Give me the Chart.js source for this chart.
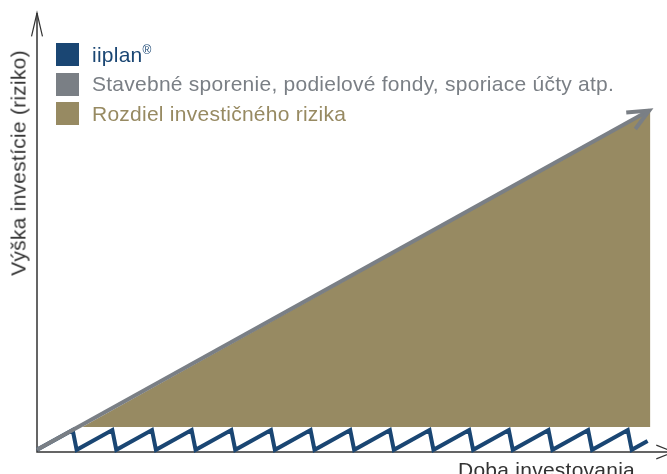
<!DOCTYPE html>
<html lang="sk">
<head>
  <meta charset="UTF-8">
  <title>Výška investície (riziko)</title>
  <script src="https://cdn.jsdelivr.net/npm/chart.js"></script>
  <style>
    body { margin: 0; background: #fff; font-family: "Liberation Sans", Arial, sans-serif; }
    .wrap { position: relative; width: 667px; height: 474px; overflow: hidden; }
    canvas { position: absolute; left: 0; top: 0; }
    .legenda { position: absolute; left: 56px; top: 40px; font-size: 21px; letter-spacing: 0.25px; }
    .legenda div { height: 29.5px; display: flex; align-items: center; white-space: nowrap; }
    .legenda span.box { width: 23px; height: 23px; margin-right: 13px; flex: none; }
    .ytitul { position: absolute; left: 18px; top: 163px; transform: translate(-50%, -50%) rotate(-90deg);
              font-size: 21px; line-height: 1; letter-spacing: 0.25px; color: #333; white-space: nowrap; }
    .xtitul { position: absolute; left: 458px; top: 459px; font-size: 21px; line-height: 1;
              letter-spacing: 0.25px; color: #333; white-space: nowrap; }
  </style>
</head>
<body>
  <div class="wrap">
    <canvas id="graf" width="667" height="474"></canvas>
    <div class="legenda" id="legenda"></div>
    <div class="ytitul">Výška investície (riziko)</div>
    <div class="xtitul">Doba investovania</div>
  </div>

  <script>
    // x = doba (periody), y = riziko (0..100)
    const nazvy = ['iiplan®', 'Stavebné sporenie, podielové fondy, sporiace účty atp.', 'Rozdiel investičného rizika'];
    const farby = ['#1a4673', '#7a7f85', '#978a62'];

    // iiplan - pilovity priebeh
    const iiplanX = [0, 0.9, 1, 1.9, 2, 2.9, 3, 3.9, 4, 4.9, 5, 5.9, 6, 6.9, 7, 7.9, 8,
                     8.9, 9, 9.9, 10, 10.9, 11, 11.9, 12, 12.9, 13, 13.9, 14, 14.9, 15, 15.4];
    const iiplanY = [0.5, 5, 0.5, 5, 0.5, 5, 0.5, 5, 0.5, 5, 0.5, 5, 0.5, 5, 0.5, 5, 0.5,
                     5, 0.5, 5, 0.5, 5, 0.5, 5, 0.5, 5, 0.5, 5, 0.5, 5, 0.5, 2.5];

    // klasicke produkty - priamka
    const klasikaX = [0, 15.44];
    const klasikaY = [0.5, 77.6];

    // rozdiel rizika - trojuholnik nad iiplanom
    const rozdielX = [1.14, 15.47];
    const rozdielY = [5.7, 77.6];
    const rozdielZaklad = 5.7;

    const body = (xs, ys) => xs.map((x, i) => ({ x: x, y: ys[i] }));

    // legenda
    const leg = document.getElementById('legenda');
    nazvy.forEach((n, i) => {
      const r = document.createElement('div');
      r.innerHTML = '<span class="box" style="background:' + farby[i] + '"></span>' +
                    '<span style="color:' + farby[i] + '">' + n.replace('®', '<sup style="font-size:12px">®</sup>') + '</span>';
      leg.appendChild(r);
    });

    function sipka(ctx, x, y, uhol, dlzka, roztvor) {
      ctx.beginPath();
      ctx.moveTo(x + dlzka * Math.cos(uhol + roztvor), y + dlzka * Math.sin(uhol + roztvor));
      ctx.lineTo(x, y);
      ctx.lineTo(x + dlzka * Math.cos(uhol - roztvor), y + dlzka * Math.sin(uhol - roztvor));
      ctx.stroke();
    }

    const osi = {
      id: 'osi',
      beforeDatasetsDraw(chart) {
        const { ctx, chartArea: a } = chart;
        ctx.save();
        ctx.strokeStyle = '#333';
        ctx.lineWidth = 1.5;
        ctx.beginPath();
        ctx.moveTo(a.left, a.top + 1);
        ctx.lineTo(a.left, a.bottom);
        ctx.lineTo(a.right, a.bottom);
        ctx.stroke();
        ctx.lineWidth = 1.2;
        sipka(ctx, a.left, a.top + 1, Math.PI / 2, 24, 0.23);
        sipka(ctx, a.right + 7, a.bottom, Math.PI, 19, 0.37);
        ctx.restore();
      },
      afterDatasetsDraw(chart) {
        const meta = chart.getDatasetMeta(1);
        const p = meta.data;
        const a = p[p.length - 2], b = p[p.length - 1];
        const uhol = Math.atan2(a.y - b.y, a.x - b.x);
        const ctx = chart.ctx;
        ctx.save();
        ctx.strokeStyle = farby[1];
        ctx.lineWidth = 4;
        ctx.lineCap = 'butt';
        sipka(ctx, b.x, b.y, uhol, 23, 0.42);
        ctx.restore();
      }
    };

    new Chart(document.getElementById('graf'), {
      type: 'line',
      data: {
        datasets: [
          { label: nazvy[0], data: body(iiplanX, iiplanY), borderColor: farby[0], borderWidth: 4,
            pointRadius: 0, fill: false, tension: 0, order: 1, clip: false },
          { label: nazvy[1], data: body(klasikaX, klasikaY), borderColor: farby[1], borderWidth: 4,
            pointRadius: 0, fill: false, tension: 0, order: 0, clip: false },
          { label: nazvy[2], data: body(rozdielX, rozdielY), borderWidth: 0, borderColor: 'rgba(0,0,0,0)',
            backgroundColor: farby[2], pointRadius: 0, fill: { value: rozdielZaklad }, tension: 0, order: 2 }
        ]
      },
      options: {
        responsive: false,
        animation: false,
        layout: { padding: { left: 37, top: 12, right: 0, bottom: 22 } },
        scales: {
          x: { type: 'linear', min: 0, max: 15.89, display: false },
          y: { min: 0, max: 100, display: false }
        },
        plugins: { legend: { display: false }, tooltip: { enabled: false } }
      },
      plugins: [osi]
    });
  </script>
</body>
</html>
